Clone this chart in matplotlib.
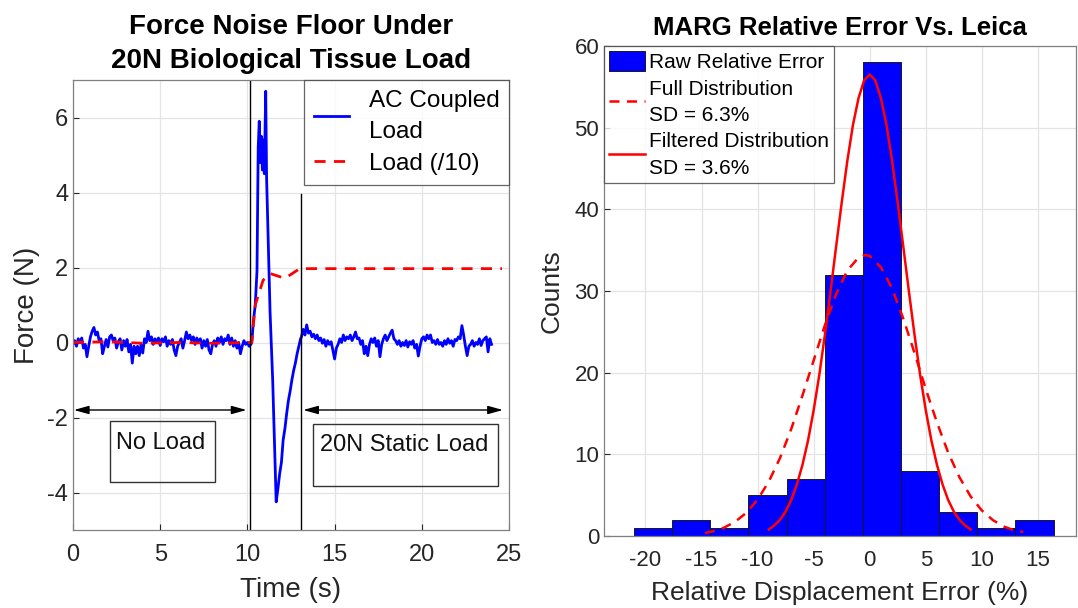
import numpy as np
import matplotlib
matplotlib.use('Agg')
import matplotlib.pyplot as plt
from matplotlib.patches import Rectangle

plt.rcParams['font.family'] = ['Liberation Sans', 'DejaVu Sans']
plt.rcParams['axes.unicode_minus'] = False

# ---- left panel data ----
noise_before = [-0.05, 0.05, -0.1, 0.1, 0.0, 0.12, -0.15, -0.05, -0.38, -0.1,
                0.15, 0.3, 0.4, 0.2, 0.28, 0.05, 0.1, -0.3, -0.1, 0.08,
                -0.12, 0.15, 0.2, 0.05, 0.12, -0.15, 0.02, 0.1, -0.2, 0.05,
                -0.1, 0.08, -0.25, -0.05, -0.55, -0.1, -0.3, -0.1, -0.35, -0.05,
                -0.28, 0.1, 0.0, 0.3, 0.05, 0.15, -0.05, 0.1, 0.0, 0.12,
                -0.08, 0.1, 0.02, 0.15, -0.1, 0.05, -0.05, 0.08, -0.2, -0.35,
                -0.1, 0.0, 0.1, -0.15, 0.05, 0.28, 0.1, 0.2, 0.05, 0.15,
                -0.05, 0.12, 0.0, 0.1, -0.15, 0.05, -0.1, 0.08, -0.2, -0.3,
                -0.05, 0.05, -0.1, 0.12, 0.0, 0.15, -0.05, 0.1, 0.05, 0.2,
                -0.05, 0.12, -0.1, 0.05, -0.15, 0.0, -0.3, -0.1, 0.05, -0.05,
                0.0, -0.1, -0.05]
spike_t = [10.25, 10.35, 10.45, 10.55, 10.62, 10.68, 10.74, 10.80, 10.86, 10.92,
           10.97, 11.05, 11.10, 11.30, 11.45, 11.55, 11.65, 11.75, 11.85, 11.95,
           12.05, 12.15, 12.25, 12.35, 12.45, 12.55, 12.65, 12.75, 12.85, 12.95, 13.05]
spike_v = [0.0, 0.6, 1.0, 1.9, 5.2, 5.9, 4.8, 5.5, 4.6, 5.4,
           4.5, 6.7, 4.4, 0.8, -1.0, -2.6, -4.25, -3.9, -3.5, -3.2,
           -2.6, -2.3, -1.9, -1.55, -1.3, -1.0, -0.75, -0.55, -0.3, -0.1, 0.1]
noise_after = [0.15, 0.35, 0.2, 0.47, 0.25, 0.3, 0.15, 0.22, 0.1, 0.2,
               0.05, 0.12, -0.02, 0.08, -0.1, 0.05, -0.05, 0.02, -0.2, -0.44,
               -0.15, -0.05, 0.1, 0.0, 0.2, 0.05, 0.15, 0.1, 0.2, 0.05,
               0.15, 0.28, 0.1, 0.12, -0.05, 0.05, -0.3, -0.1, -0.35, -0.05,
               0.1, 0.0, 0.12, -0.1, 0.05, -0.38, -0.05, 0.1, 0.2, 0.05,
               0.15, 0.25, 0.33, 0.1, 0.05, -0.05, 0.05, -0.1, 0.0, -0.08,
               0.05, -0.12, 0.02, -0.05, 0.05, -0.15, -0.05, -0.36, -0.1, 0.1,
               0.15, 0.05, 0.2, 0.1, 0.2, 0.0, 0.05, -0.05, 0.08, -0.05,
               0.0, -0.1, 0.05, -0.05, 0.1, -0.02, 0.05, -0.1, 0.08, 0.05,
               0.15, 0.1, 0.45, 0.2, -0.1, -0.35, -0.1, -0.05, 0.05, -0.1,
               0.0, -0.05, 0.1, -0.08, 0.05, 0.1, 0.15, -0.25, 0.1, -0.05]

load_t = [0, 2, 4, 6, 8, 10.25, 10.45, 10.9, 11.3, 12.15, 13.0, 24.6]
load_v = [0.0, 0.02, -0.02, 0.0, -0.02, 0.0, 1.0, 1.66, 1.84, 1.71, 1.97, 1.97]

t_before = np.linspace(0, 10.2, len(noise_before))
t_after = np.linspace(13.1, 24.0, len(noise_after))
ac_t = np.concatenate([t_before, spike_t, t_after])
ac_v = np.concatenate([noise_before, spike_v, noise_after])

# ---- right panel data ----
bin_edges = [-21.04, -17.64, -14.23, -10.83, -7.42, -4.02, -0.62, 2.79, 6.19, 9.60, 13.00, 16.40]
counts = [1, 2, 1, 5, 7, 32, 58, 8, 3, 1, 2]

full_x = [-14.7, -14, -13, -12, -11, -10, -9, -8, -7, -6, -5, -4, -3, -2, -1, -0.4,
          0, 1, 2, 3, 4, 5, 6, 7, 8, 9, 10, 11, 12, 13, 13.7]
full_y = [0.37, 0.57, 1.02, 1.74, 2.85, 4.46, 6.67, 9.55, 13.1, 17.2, 21.5, 25.8, 29.6, 32.5, 34.1, 34.4,
          34.3, 32.9, 30.3, 26.6, 22.4, 18.0, 13.9, 10.2, 7.2, 4.85, 3.13, 1.93, 1.14, 0.64, 0.5]

filt_x = [-9, -8.5, -8, -7.5, -7, -6.5, -6, -5.5, -5, -4.5, -4, -3.5, -3, -2.5, -2, -1.5, -1, -0.5,
          0, 0.5, 1, 1.5, 2, 2.5, 3, 3.5, 4, 4.5, 5, 5.5, 6, 6.5, 7, 7.5, 8, 8.5, 9]
filt_y = [0.8, 1.3, 2.0, 3.0, 4.4, 6.3, 8.7, 11.7, 15.4, 19.7, 24.6, 29.9, 35.4, 40.8, 45.9, 50.3, 53.6, 55.8,
          56.5, 55.8, 53.6, 50.3, 45.9, 40.8, 35.4, 29.9, 24.6, 19.7, 15.4, 11.7, 8.7, 6.3, 4.4, 3.0, 2.0, 1.3, 0.8]

W, H = 1078, 608
fig = plt.figure(figsize=(W / 100, H / 100), dpi=100)

grid_col = '#e4e4e4'
txt_col = '#262626'


def style(ax, size):
    ax.tick_params(direction='in', length=4, labelsize=size, colors=txt_col, width=0.8)
    ax.tick_params(axis='x', pad=10)
    for s in ax.spines.values():
        s.set_color('#808080')
        s.set_linewidth(0.9)
    ax.grid(True, color=grid_col, linewidth=0.9)
    ax.set_axisbelow(True)


# ---------- left ----------
ax1 = fig.add_axes([73 / W, 1 - 530 / H, (509 - 73) / W, (530 - 80) / H])
style(ax1, 17)
ax1.plot(ac_t, ac_v, color='#0000ff', lw=2, label='AC Coupled\nLoad')
ax1.plot(load_t, load_v, color='#ff0000', lw=2, ls=(0, (4, 3)), label='Load (/10)')
ax1.set_xlim(0, 25)
ax1.set_ylim(-5, 7)
ax1.set_xticks([0, 5, 10, 15, 20, 25])
ax1.set_yticks([-4, -2, 0, 2, 4, 6])
ax1.set_xlabel('Time (s)', fontsize=20, color=txt_col, labelpad=8)
ax1.set_ylabel('Force (N)', fontsize=20, color=txt_col, labelpad=5)
ax1.set_title('Force Noise Floor Under\n20N Biological Tissue Load', fontsize=20,
              fontweight='bold', pad=9, linespacing=1.35)

ax1.plot([10.15, 10.15], [-5, 7], color='black', lw=1)
ax1.plot([13.05, 13.05], [-5, 3.95], color='black', lw=1)

arrow = dict(arrowstyle='<|-|>,head_length=0.9,head_width=0.25', color='black', lw=1,
             shrinkA=0, shrinkB=0)
ax1.annotate('', xy=(0.05, -1.8), xytext=(9.95, -1.8), arrowprops=arrow)
ax1.annotate('', xy=(13.2, -1.8), xytext=(24.65, -1.8), arrowprops=arrow)

ax1.add_patch(Rectangle((2.1, -3.72), 6.04, 1.63, fill=False, ec='#333333', lw=1))
ax1.text(5.05, -2.68, 'No Load', fontsize=17, ha='center', va='center', color='#111111')
ax1.add_patch(Rectangle((13.74, -3.82), 10.63, 1.64, fill=False, ec='#333333', lw=1))
ax1.text(19.0, -2.73, '20N Static Load', fontsize=17, ha='center', va='center', color='#111111')

leg1 = ax1.legend(loc='upper right', fontsize=17.5, frameon=True, fancybox=False,
                  borderaxespad=0, handlelength=1.45, borderpad=0.4, labelspacing=0.4,
                  handletextpad=0.8)
leg1.get_frame().set_edgecolor('#404040')
leg1.get_frame().set_linewidth(0.9)
for t in leg1.get_texts():
    t.set_linespacing(1.55)

# ---------- right ----------
ax2 = fig.add_axes([604 / W, 1 - 536 / H, (1076 - 604) / W, (536 - 46) / H])
style(ax2, 16)
widths = np.diff(bin_edges)
bars = ax2.bar(bin_edges[:-1], counts, width=widths, align='edge', color='#0000ff',
               edgecolor='#1a1a1a', linewidth=0.7, label='Raw Relative Error')
l_full, = ax2.plot(full_x, full_y, color='#ff0000', lw=1.8, ls=(0, (4, 3)),
                   label='Full Distribution\nSD = 6.3%')
l_filt, = ax2.plot(filt_x, filt_y, color='#ff0000', lw=1.8,
                   label='Filtered Distribution\nSD = 3.6%')
ax2.set_xlim(-23.7, 18.4)
ax2.set_ylim(0, 60)
ax2.set_xticks([-20, -15, -10, -5, 0, 5, 10, 15])
ax2.set_yticks([0, 10, 20, 30, 40, 50, 60])
ax2.set_xlabel('Relative Displacement Error (%)', fontsize=19, color=txt_col, labelpad=7)
ax2.set_ylabel('Counts', fontsize=19, color=txt_col, labelpad=8)
ax2.set_title('MARG Relative Error Vs. Leica', fontsize=18.5, fontweight='bold', pad=8)

leg2 = ax2.legend([bars, l_full, l_filt],
                  ['Raw Relative Error', 'Full Distribution\nSD = 6.3%',
                   'Filtered Distribution\nSD = 3.6%'],
                  loc='upper left', fontsize=15, frameon=True, fancybox=False,
                  borderaxespad=0, handlelength=1.7, handleheight=1.1, borderpad=0.25,
                  labelspacing=0.35, handletextpad=0.2)
leg2.get_frame().set_edgecolor('#404040')
leg2.get_frame().set_linewidth(0.9)
for t in leg2.get_texts():
    t.set_linespacing(1.5)

fig.savefig('out.png', dpi=100)
